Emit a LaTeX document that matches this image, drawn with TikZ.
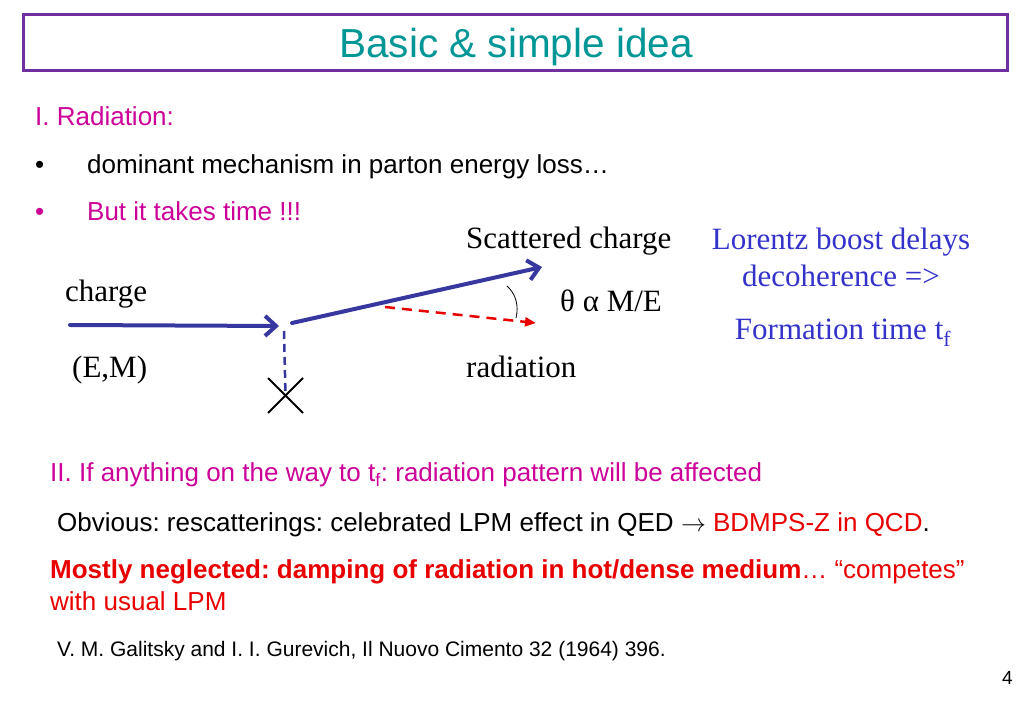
\documentclass[tikz,border=0pt]{standalone}
\usepackage{fontspec}
\setmainfont{Liberation Sans}
\newfontfamily\tms{Liberation Serif}
\usetikzlibrary{arrows.meta,shapes.misc}
\definecolor{ttl}{RGB}{0,150,150}
\definecolor{frame}{RGB}{112,48,160}
\definecolor{pinkt}{RGB}{204,0,153}
\definecolor{redt}{RGB}{232,0,0}
\definecolor{bluet}{RGB}{51,51,204}
\definecolor{navy}{RGB}{55,55,160}
\frenchspacing
\begin{document}
\begin{tikzpicture}[x=1pt,y=-1pt,
  txt/.style={inner sep=0pt, anchor=base west, font=\fontsize{26}{30}\selectfont},
  sertxt/.style={inner sep=0pt, anchor=base west, font=\tms\fontsize{31}{36}\selectfont},
  ray/.style={draw=navy, line width=4pt, line cap=round, -{Straight Barb[length=11pt,width=20pt,line width=4pt]}},
  radray/.style={draw=redt, line width=2.5pt, dash pattern=on 10pt off 7pt, -{Triangle[length=11pt,width=9pt]}},
  drop/.style={draw=navy, line width=2.5pt, dash pattern=on 8pt off 5pt}]
\useasboundingbox (0,0) rectangle (1023,708);
\fill[white] (0,0) rectangle (1023,708);
% title
\node[draw=frame, line width=3pt, minimum width=984pt, minimum height=56pt, inner sep=0pt] (titlebox) at (515,43) {};
\node[inner sep=0pt, anchor=base, text=ttl, font=\fontsize{40.5}{44}\selectfont] (title) at (516,58) {Basic \& simple idea};
% section I
\node[txt, text=pinkt] (secI) at (35,126) {I. Radiation:};
\node[txt] (b1) at (35,174) {\textbullet};
\node[txt] (l1) at (87,174) {dominant mechanism in parton energy loss…};
\node[txt, text=pinkt] (b2) at (35,221) {\textbullet};
\node[txt, text=pinkt] (l2) at (87,221) {But it takes time !!!};
% diagram
\coordinate (inS) at (70,325);
\coordinate (inE) at (279,326);
\coordinate (vtx) at (292,323);
\coordinate (outE) at (542,267);
\coordinate (radS) at (385,307);
\coordinate (radE) at (536,323);
\coordinate (vdrop) at (284,331);
\node[cross out, draw=black, line width=2pt, minimum size=33pt, inner sep=0pt] (target) at (285.5,395.5) {};
\draw[ray] (inS) -- (inE);
\draw[ray] (vtx) -- (outE);
\draw[radray] (radS) -- (radE);
\draw[drop] (vdrop) -- (target.center);
\draw[black, line width=0.8pt] (507,286) .. controls (516,294) and (519,306) .. (516,318);
\node[sertxt] (scat) at (466,249) {Scattered charge};
\node[sertxt] (chg) at (65,302) {charge};
\node[sertxt] (em) at (72,378) {(E,M)};
\node[sertxt] (theta) at (560,312) {θ α M/E};
\node[sertxt] (rad) at (466,378) {radiation};
\node[sertxt, text=bluet, anchor=base] (lor1) at (841,250) {Lorentz boost delays};
\node[sertxt, text=bluet, anchor=base] (lor2) at (841,287) {decoherence =>};
\node[sertxt, text=bluet, anchor=base] (lor3) at (843,340) {Formation time t\textsubscript{f}};
% section II
\node[txt, text=pinkt] (secII) at (50,482) {II. If anything on the way to t\textsubscript{f}: radiation pattern will be affected};
\node[txt] (obv) at (57,531) {Obvious: rescatterings: celebrated LPM effect in QED $\rightarrow$ \textcolor{redt}{BDMPS-Z in QCD}.};
\node[txt, text=redt] (most1) at (50,578) {\textbf{Mostly neglected: damping of radiation in hot/dense medium}… “competes”};
\node[txt, text=redt] (most2) at (50,610) {with usual LPM};
\node[inner sep=0pt, anchor=base west, font=\fontsize{21}{25}\selectfont] (ref) at (57,656) {V. M. Galitsky and I. I. Gurevich, Il Nuovo Cimento 32 (1964) 396.};
\node[inner sep=0pt, anchor=base east, font=\fontsize{19}{22}\selectfont] (pg) at (1013,684) {4};
\end{tikzpicture}
\end{document}
